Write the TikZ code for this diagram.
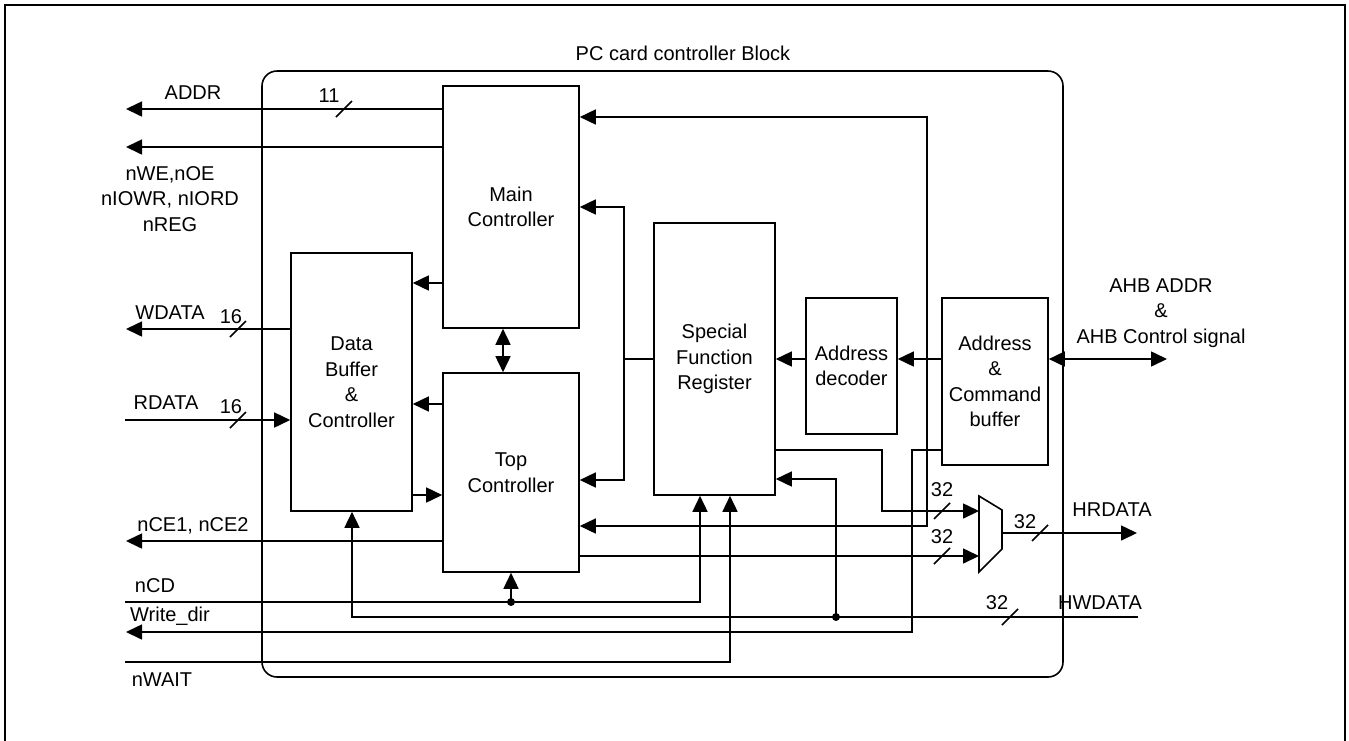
\documentclass[tikz,border=0pt]{standalone}
\usepackage{fontspec}
\setmainfont{Liberation Sans}
\usetikzlibrary{arrows.meta,calc}
\newcommand\dfont{\fontsize{20}{25.5}\selectfont}
\begin{document}
\begin{tikzpicture}[x=1pt,y=-1pt,
  blk/.style={draw,line width=1.6pt,inner sep=0pt,align=center,font=\dfont},
  lbl/.style={inner sep=0pt,align=center,font=\dfont},
  wire/.style={line width=1.6pt},
  arr/.style={wire,-{Triangle[length=16pt,width=15pt]}},
  dblarr/.style={wire,{Triangle[length=16pt,width=15pt]}-{Triangle[length=16pt,width=15pt]}},
  bus/.pic={\draw[line width=1.6pt] (-8,8) -- (8,-8);}
]
\useasboundingbox (0,0) rectangle (1349,740);
% outer frame
\draw[line width=2.6pt] (5,760) -- (5,5) -- (1345,5) -- (1345,760);
% block outline
\draw[line width=1.6pt,rounded corners=15pt] (262,71) rectangle (1063,677);
\node[lbl] (title) at (683,53) {PC card controller Block};

% blocks
\node[blk,minimum width=136pt,minimum height=242pt] (main) at (511,207) {Main\\Controller};
\node[blk,minimum width=136pt,minimum height=199pt] (top) at (511,472.5) {Top\\Controller};
\node[blk,minimum width=121pt,minimum height=258pt] (dbuf) at (351.5,382) {Data\\Buffer\\\&\\Controller};
\node[blk,minimum width=121pt,minimum height=272pt] (sfr) at (714.5,359) {Special\\Function\\Register};
\node[blk,minimum width=91pt,minimum height=136pt] (adec) at (851.5,366) {Address\\decoder};
\node[blk,minimum width=106pt,minimum height=167pt] (acb) at (995,381.5) {Address\\\&\\Command\\buffer};

% mux
\coordinate (muxA) at (979,511);
\coordinate (muxB) at (979,556);
\coordinate (muxO) at (1002,533);
\draw[line width=1.6pt] (979,496) -- (1002,510) -- (1002,549) -- (979,572) -- cycle;

% free ends
\coordinate (addrL) at (126,109);
\coordinate (ctlL) at (126,147);
\coordinate (wdL) at (126,329);
\coordinate (rdL) at (125,420);
\coordinate (nceL) at (126,541);
\coordinate (ncdL) at (125,602);
\coordinate (ncdJ) at (511,602);
\coordinate (wdirL) at (126,632);
\coordinate (hwR) at (1138,617);
\coordinate (hwJ) at (836,617);
\coordinate (nwL) at (125,662);
\coordinate (ahbR) at (1167,359);
\coordinate (hrR) at (1137,533);

% left side signals
\draw[arr] (main.west |- 0,109) -- (addrL);
\draw[arr] (main.west |- 0,147) -- (ctlL);
\draw[arr] (main.west |- 0,283) -- (dbuf.east |- 0,283);
\draw[arr] (dbuf.west |- 0,329) -- (wdL);
\draw[arr] (rdL) -- (dbuf.west |- 0,420);
\draw[arr] (top.west |- 0,404) -- (dbuf.east |- 0,404);
\draw[arr] (dbuf.east |- 0,495) -- (top.west |- 0,495);
\draw[arr] (top.west |- 0,541) -- (nceL);
\draw[dblarr] (main.south -| 503,0) -- (top.north -| 503,0);

% bottom signals
\draw[arr] (ncdL) -| (sfr.south -| 700,0);
\draw[arr] (ncdJ) -- (top.south -| ncdJ);
\fill (ncdJ) circle (4pt);
\draw[arr] (acb.west |- 0,450) -| (912,632) -- (wdirL);
\draw[arr] (hwR) -| (dbuf.south -| 352,0);
\draw[arr] (hwJ) |- (sfr.east |- 0,479);
\fill (hwJ) circle (4pt);
\draw[arr] (nwL) -| (sfr.south -| 730,0);

% internal
\draw[arr] (top.east |- 0,556) -- (muxB);
\draw[arr] (sfr.east |- 0,450) -| (882,511) -- (muxA);
\draw[dblarr] (main.east |- 0,117) -| (927,526) -- (top.east |- 0,526);
\draw[dblarr] (main.east |- 0,207) -| (624,480) -- (top.east |- 0,480);
\draw[wire] (sfr.west |- 0,359) -- (624,359);
\draw[arr] (adec.west |- 0,359) -- (sfr.east |- 0,359);
\draw[arr] (acb.west |- 0,359) -- (adec.east |- 0,359);
\draw[dblarr] (acb.east |- 0,359) -- (ahbR);
\draw[arr] (muxO) -- (hrR);

% bus marks
\pic at (344,109) {bus};
\pic at (238,329) {bus};
\pic at (238,420) {bus};
\pic at (942,511) {bus};
\pic at (942,556) {bus};
\pic at (1040,533) {bus};
\pic at (1010,617) {bus};
\node[lbl] (b11) at (329,96) {11};
\node[lbl] (b16a) at (231,317) {16};
\node[lbl] (b16b) at (231,407) {16};
\node[lbl] (b32a) at (942,490) {32};
\node[lbl] (b32b) at (942,537) {32};
\node[lbl] (b32c) at (1025,522) {32};
\node[lbl] (b32d) at (997,603) {32};

% labels
\node[lbl] (laddr) at (193,93) {ADDR};
\node[lbl] (lctl) at (170,199) {nWE,nOE\\nIOWR, nIORD\\nREG};
\node[lbl] (lwd) at (170,313) {WDATA};
\node[lbl] (lrd) at (166,403) {RDATA};
\node[lbl] (lnce) at (193,526) {nCE1, nCE2};
\node[lbl] (lncd) at (155,586) {nCD};
\node[lbl] (lwdir) at (170,616) {Write\_dir};
\node[lbl] (lnw) at (162,680) {nWAIT};
\node[lbl] (lahb) at (1161,313) {AHB ADDR\\\&\\AHB Control signal};
\node[lbl] (lhr) at (1112,510) {HRDATA};
\node[lbl] (lhw) at (1100,603) {HWDATA};
\end{tikzpicture}
\end{document}
